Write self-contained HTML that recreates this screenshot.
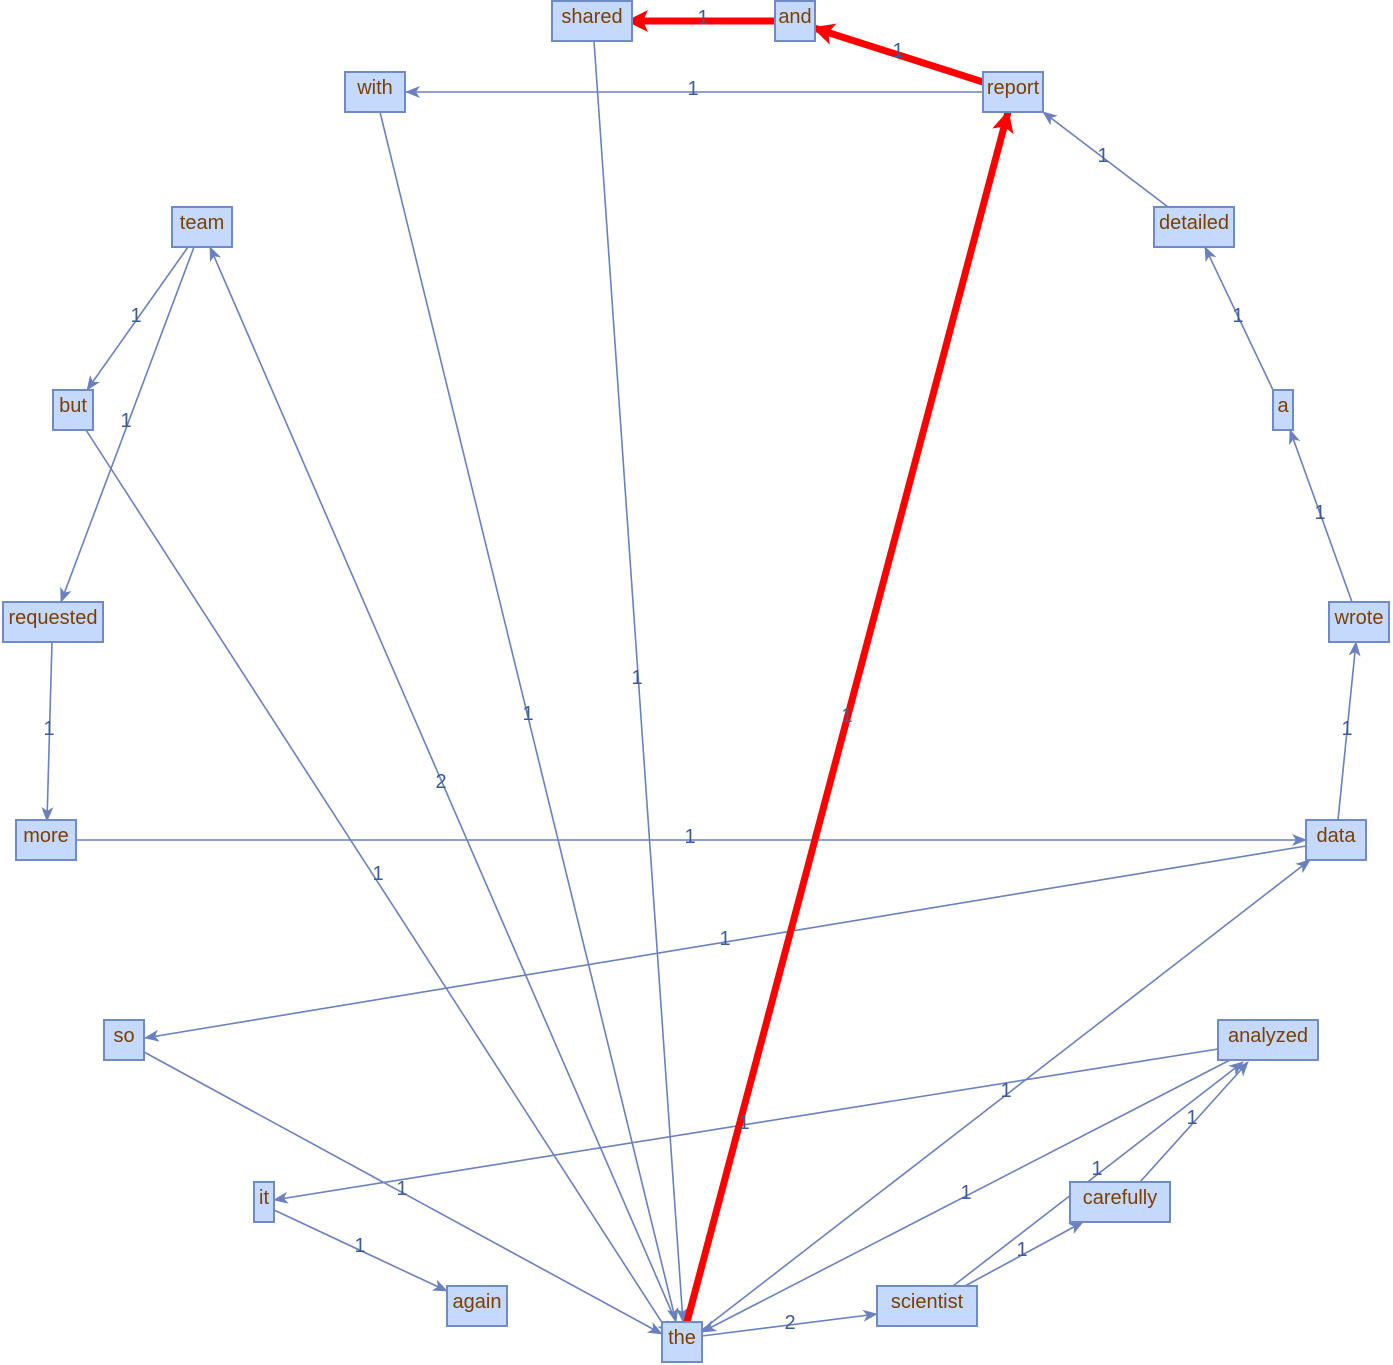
<!DOCTYPE html>
<html><head><meta charset="utf-8"><style>
html,body{margin:0;padding:0;background:#fff;}
svg{display:block;}
.e{stroke:#6a80bf;stroke-width:1.6;fill:none;marker-end:url(#ab);}
.r{stroke:#ff0000;stroke-width:7;fill:none;marker-end:url(#ar);}
.l{font-family:"Liberation Sans",sans-serif;font-size:20px;fill:#3d5a99;text-anchor:middle;}
.n rect{fill:#c5d9fc;stroke:#6f8bc6;stroke-width:2;}
.n text{font-family:"Liberation Sans",sans-serif;font-size:20px;fill:#7a3f00;text-anchor:middle;}
</style></head><body>
<svg width="1393" height="1365" viewBox="0 0 1393 1365" xmlns="http://www.w3.org/2000/svg">
<defs>
<marker id="ab" markerUnits="userSpaceOnUse" markerWidth="16" markerHeight="12" refX="14" refY="6" orient="auto"><path d="M0,0 L15,6 L0,12 L4,6 Z" fill="#6a80bf"/></marker>
<marker id="ar" markerUnits="userSpaceOnUse" markerWidth="24" markerHeight="22" refX="20" refY="11" orient="auto"><path d="M0,0 L22,11 L0,22 L5,11 Z" fill="#ff0000"/></marker>
</defs>
<line class="e" x1="983" y1="92" x2="406" y2="92"/>
<line class="e" x1="1168" y1="207" x2="1043" y2="112"/>
<line class="e" x1="1273" y1="390" x2="1205" y2="247"/>
<line class="e" x1="1352" y1="602" x2="1290" y2="430"/>
<line class="e" x1="1338" y1="820" x2="1356" y2="642"/>
<line class="e" x1="76" y1="840" x2="1306" y2="840"/>
<line class="e" x1="1306" y1="846" x2="145" y2="1038"/>
<line class="e" x1="188" y1="247" x2="87" y2="390"/>
<line class="e" x1="194" y1="247" x2="61" y2="602"/>
<line class="e" x1="52" y1="642" x2="47" y2="821"/>
<line class="e" x1="676" y1="1322" x2="210" y2="247"/>
<line class="e" x1="86" y1="430" x2="670" y2="1335"/>
<line class="e" x1="380" y1="112" x2="676" y2="1322"/>
<line class="e" x1="594" y1="41" x2="683" y2="1322"/>
<line class="e" x1="144" y1="1052" x2="662" y2="1334"/>
<line class="e" x1="1218" y1="1049" x2="274" y2="1200"/>
<line class="e" x1="274" y1="1210" x2="447" y2="1291"/>
<line class="e" x1="702" y1="1330" x2="1310" y2="860"/>
<line class="e" x1="1230" y1="1060" x2="702" y2="1332"/>
<line class="e" x1="702" y1="1336" x2="877" y2="1314"/>
<line class="e" x1="953" y1="1286" x2="1243" y2="1062"/>
<line class="e" x1="965" y1="1286" x2="1083" y2="1222"/>
<line class="e" x1="1140" y1="1182" x2="1248" y2="1062"/>
<line class="r" x1="775" y1="21" x2="628" y2="21"/>
<line class="r" x1="983" y1="82" x2="814" y2="28"/>
<line class="r" x1="687" y1="1322" x2="1008" y2="112"/>
<g class="l">
<text class="l" x="703" y="24">1</text>
<text class="l" x="898" y="57">1</text>
<text class="l" x="847" y="722">1</text>
<text class="l" x="693" y="95">1</text>
<text class="l" x="1103" y="162">1</text>
<text class="l" x="1238" y="322">1</text>
<text class="l" x="1320" y="519">1</text>
<text class="l" x="1347" y="735">1</text>
<text class="l" x="690" y="843">1</text>
<text class="l" x="725" y="945">1</text>
<text class="l" x="136" y="322">1</text>
<text class="l" x="126" y="427">1</text>
<text class="l" x="49" y="735">1</text>
<text class="l" x="441" y="788">2</text>
<text class="l" x="378" y="880">1</text>
<text class="l" x="528" y="720">1</text>
<text class="l" x="637" y="684">1</text>
<text class="l" x="402" y="1195">1</text>
<text class="l" x="744" y="1129">1</text>
<text class="l" x="360" y="1252">1</text>
<text class="l" x="1006" y="1097">1</text>
<text class="l" x="966" y="1199">1</text>
<text class="l" x="790" y="1329">2</text>
<text class="l" x="1097" y="1175">1</text>
<text class="l" x="1022" y="1256">1</text>
<text class="l" x="1192" y="1124">1</text>
</g>
<g class="n">
<rect x="552" y="1" width="80" height="40"/><text x="592" y="23">shared</text>
<rect x="775" y="1" width="40" height="40"/><text x="795" y="23">and</text>
<rect x="345" y="72" width="60" height="40"/><text x="375" y="94">with</text>
<rect x="983" y="72" width="60" height="40"/><text x="1013" y="94">report</text>
<rect x="172" y="207" width="60" height="40"/><text x="202" y="229">team</text>
<rect x="1154" y="207" width="80" height="40"/><text x="1194" y="229">detailed</text>
<rect x="53" y="390" width="40" height="40"/><text x="73" y="412">but</text>
<rect x="1273" y="390" width="20" height="40"/><text x="1283" y="412">a</text>
<rect x="3" y="602" width="100" height="40"/><text x="53" y="624">requested</text>
<rect x="1329" y="602" width="60" height="40"/><text x="1359" y="624">wrote</text>
<rect x="16" y="820" width="60" height="40"/><text x="46" y="842">more</text>
<rect x="1306" y="820" width="60" height="40"/><text x="1336" y="842">data</text>
<rect x="104" y="1020" width="40" height="40"/><text x="124" y="1042">so</text>
<rect x="1218" y="1020" width="100" height="40"/><text x="1268" y="1042">analyzed</text>
<rect x="254" y="1182" width="20" height="40"/><text x="264" y="1204">it</text>
<rect x="1070" y="1182" width="100" height="40"/><text x="1120" y="1204">carefully</text>
<rect x="447" y="1286" width="60" height="40"/><text x="477" y="1308">again</text>
<rect x="877" y="1286" width="100" height="40"/><text x="927" y="1308">scientist</text>
<rect x="662" y="1322" width="40" height="40"/><text x="682" y="1344">the</text>
</g>
</svg>
</body></html>
